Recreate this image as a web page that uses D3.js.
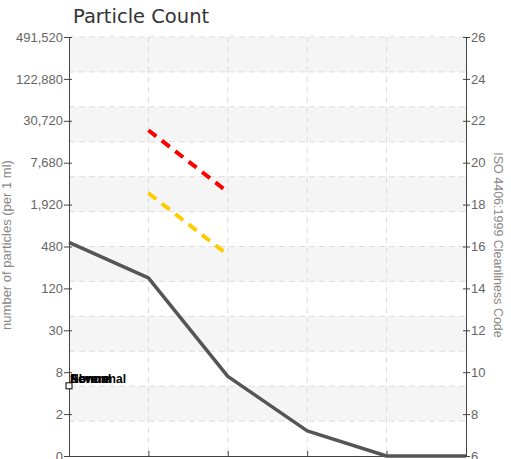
<!DOCTYPE html>
<html>
<head>
<meta charset="utf-8">
<script src="https://cdn.jsdelivr.net/npm/d3@7.9.0/dist/d3.min.js"></script>
<style>
  body { margin: 0; background: #fff; }
  svg { display: block; }
  .tick text { font-family: "Liberation Sans", Arial, sans-serif; font-size: 13px; fill: #666; }
</style>
</head>
<body>
<svg width="511" height="459"></svg>
<script>
// x categories (labels are cut off below the picture)
const categories = ['c0', 'c1', 'c2', 'c3', 'c4', 'c5'];

// values in ISO 4406 code units (right axis)
const countCodes = [16.2, 14.5, 9.8, 7.2, 6, 6];
const redLimit = [null, 21.55, 18.6, null, null, null];
const yellowLimit = [null, 18.55, 15.6, null, null, null];

const markerCode = 9.35;
const markerLabels = ['Normal', 'Abnormal', 'Severe'];

const codeTicks = [6, 8, 10, 12, 14, 16, 18, 20, 22, 24, 26];
const countLabels = ['0', '2', '8', '30', '120', '480', '1,920', '7,680', '30,720', '122,880', '491,520'];
const gridSteps = 12;

const svg = d3.select('svg');
const plotLeft = 69, plotRight = 466, plotTop = 37, plotBottom = 456;

const x = d3.scalePoint().domain(categories).range([plotLeft, plotRight]);
const y = d3.scaleLinear().domain([6, 26]).range([plotBottom, plotTop]);
const yGrid = d3.scaleLinear().domain([0, gridSteps]).range([plotBottom, plotTop]);

// alternating bands
svg.append('g')
  .selectAll('rect')
  .data(d3.range(1, gridSteps, 2))
  .enter()
  .append('rect')
  .attr('x', plotLeft)
  .attr('width', plotRight - plotLeft)
  .attr('y', d => yGrid(d + 1))
  .attr('height', d => yGrid(d) - yGrid(d + 1))
  .attr('fill', '#f5f5f5');

// horizontal grid
svg.append('g')
  .selectAll('line')
  .data(d3.range(1, gridSteps + 1))
  .enter()
  .append('line')
  .attr('x1', plotLeft).attr('x2', plotRight)
  .attr('y1', d => yGrid(d)).attr('y2', d => yGrid(d))
  .attr('stroke', '#ddd')
  .attr('stroke-dasharray', '6,4');

// vertical grid
svg.append('g')
  .selectAll('line')
  .data(categories.slice(1, -1))
  .enter()
  .append('line')
  .attr('x1', d => x(d)).attr('x2', d => x(d))
  .attr('y1', plotTop).attr('y2', plotBottom)
  .attr('stroke', '#ddd')
  .attr('stroke-dasharray', '6,4');

// axes
const leftAxis = svg.append('g')
  .attr('transform', `translate(${plotLeft},0)`)
  .call(d3.axisLeft(y).tickValues(codeTicks).tickSize(5).tickSizeOuter(0)
    .tickFormat((d, i) => countLabels[i]));

const rightAxis = svg.append('g')
  .attr('transform', `translate(${plotRight},0)`)
  .call(d3.axisRight(y).tickValues(codeTicks).tickSize(4).tickSizeOuter(0)
    .tickFormat(d3.format('d')));

const bottomAxis = svg.append('g')
  .attr('transform', `translate(0,${plotBottom})`)
  .call(d3.axisTop(x).tickSize(5).tickSizeOuter(0).tickFormat(''));

leftAxis.selectAll('.tick line').attr('x1', 3);
rightAxis.selectAll('.tick line').attr('x1', -3);
leftAxis.selectAll('.tick text').attr('x', -6);
rightAxis.selectAll('.tick text').attr('x', 5);
[leftAxis, rightAxis, bottomAxis].forEach(g => {
  g.select('.domain').attr('stroke', '#444');
  g.selectAll('.tick line').attr('stroke', '#444');
});

// series
const line = d3.line()
  .defined(d => d != null)
  .x((d, i) => x(categories[i]))
  .y(d => y(d));

svg.append('path')
  .datum(countCodes)
  .attr('d', line)
  .attr('fill', 'none')
  .attr('stroke', '#555')
  .attr('stroke-width', 3.5)
  .attr('stroke-linejoin', 'round');

svg.append('path')
  .datum(redLimit)
  .attr('d', line)
  .attr('fill', 'none')
  .attr('stroke', '#f00')
  .attr('stroke-width', 4)
  .attr('stroke-dasharray', '10,7');

svg.append('path')
  .datum(yellowLimit)
  .attr('d', line)
  .attr('fill', 'none')
  .attr('stroke', '#fc0')
  .attr('stroke-width', 4)
  .attr('stroke-dasharray', '10,7');

// marker and overlapping labels
svg.append('rect')
  .attr('x', x(categories[0]) - 3)
  .attr('y', y(markerCode) - 3)
  .attr('width', 6).attr('height', 6)
  .attr('fill', '#fff')
  .attr('stroke', '#000')
  .attr('stroke-width', 1);

svg.append('g')
  .selectAll('text')
  .data(markerLabels)
  .enter()
  .append('text')
  .attr('x', x(categories[0]) + 1)
  .attr('y', y(markerCode) - 3)
  .attr('font-family', '"Liberation Sans", Arial, sans-serif')
  .attr('font-size', 12)
  .attr('font-weight', 'bold')
  .attr('fill', '#000')
  .text(d => d);

// titles
svg.append('text')
  .attr('x', 73).attr('y', 23)
  .attr('font-family', '"DejaVu Sans", sans-serif')
  .attr('font-size', 19.5)
  .attr('fill', '#333')
  .text('Particle Count');

svg.append('text')
  .attr('transform', 'translate(11,245) rotate(-90)')
  .attr('text-anchor', 'middle')
  .attr('font-family', '"Liberation Sans", Arial, sans-serif')
  .attr('font-size', 13)
  .attr('fill', '#888')
  .text('number of particles (per 1 ml)');

svg.append('text')
  .attr('transform', 'translate(494,245) rotate(90)')
  .attr('text-anchor', 'middle')
  .attr('font-family', '"Liberation Sans", Arial, sans-serif')
  .attr('font-size', 12.5)
  .attr('fill', '#888')
  .text('ISO 4406:1999 Cleanliness Code');
</script>
</body>
</html>
